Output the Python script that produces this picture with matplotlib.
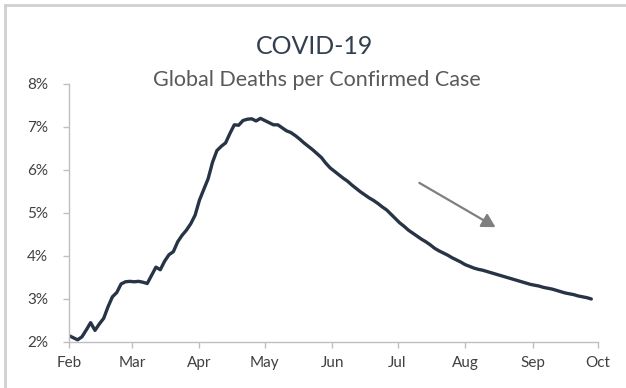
import numpy as np
import pandas as pd
import matplotlib
matplotlib.use("Agg")
import matplotlib.pyplot as plt
import matplotlib.dates as mdates
from matplotlib.lines import Line2D
from matplotlib.ticker import FuncFormatter

plt.rcParams['font.family'] = ['Lato', 'DejaVu Sans']

# Global deaths per confirmed case (%), sampled every other day from 1 Feb 2020
start_date = "2020-02-01"
step_days = 2
death_rate = [
    2.15, 2.10, 2.05, 2.12, 2.28, 2.45, 2.27, 2.42, 2.55, 2.82,
    3.05, 3.15, 3.35, 3.40, 3.41, 3.40, 3.41, 3.39, 3.36, 3.55,
    3.74, 3.68, 3.88, 4.03, 4.10, 4.33, 4.48, 4.60, 4.75, 4.95,
    5.30, 5.55, 5.80, 6.18, 6.45, 6.55, 6.63, 6.85, 7.05, 7.04,
    7.15, 7.18, 7.19, 7.14, 7.20, 7.15, 7.10, 7.05, 7.05, 6.98,
    6.91, 6.87, 6.80, 6.72, 6.63, 6.55, 6.47, 6.38, 6.29, 6.16,
    6.05, 5.97, 5.89, 5.81, 5.74, 5.65, 5.57, 5.49, 5.42, 5.35,
    5.29, 5.22, 5.14, 5.07, 4.97, 4.87, 4.77, 4.69, 4.60, 4.53,
    4.46, 4.39, 4.33, 4.26, 4.18, 4.12, 4.07, 4.02, 3.96, 3.91,
    3.86, 3.80, 3.76, 3.72, 3.69, 3.67, 3.64, 3.61, 3.58, 3.55,
    3.52, 3.49, 3.46, 3.43, 3.40, 3.37, 3.34, 3.32, 3.30, 3.27,
    3.25, 3.23, 3.20, 3.17, 3.14, 3.12, 3.10, 3.07, 3.05, 3.03,
    3.00,
]
month_ticks = ["2020-02-01", "2020-03-01", "2020-04-01", "2020-05-01", "2020-06-01",
               "2020-07-01", "2020-08-01", "2020-09-01", "2020-10-01"]
month_labels = ["Feb", "Mar", "Apr", "May", "Jun", "Jul", "Aug", "Sep", "Oct"]
y_ticks = [2, 3, 4, 5, 6, 7, 8]

dates = pd.date_range(start_date, periods=len(death_rate), freq=f"{step_days}D")

fig = plt.figure(figsize=(6.26, 3.88), dpi=100)
ax = fig.add_axes([0.110, 0.1186, 0.845, 0.665])

ax.plot(dates, death_rate, color="#263445", lw=2.4, solid_capstyle="round",
        solid_joinstyle="round")

ax.set_xlim(pd.Timestamp(month_ticks[0]), pd.Timestamp(month_ticks[-1]))
ax.set_ylim(y_ticks[0], y_ticks[-1])
ax.set_xticks([pd.Timestamp(d) for d in month_ticks])
ax.set_xticklabels(month_labels)
ax.set_yticks(y_ticks)
ax.yaxis.set_major_formatter(FuncFormatter(lambda v, p: f"{v:.0f}%"))

axis_grey = "#bfbfbf"
for side in ("top", "right"):
    ax.spines[side].set_visible(False)
for side in ("left", "bottom"):
    ax.spines[side].set_color(axis_grey)
    ax.spines[side].set_linewidth(1.0)
ax.tick_params(axis="both", colors=axis_grey, labelcolor="#404040",
               labelsize=11, length=4, width=1.0, direction="out")
ax.tick_params(axis="y", pad=11)
ax.tick_params(axis="x", pad=6)

# Trend arrow
ax.annotate("", xy=(pd.Timestamp("2020-08-15"), 4.67),
            xytext=(pd.Timestamp("2020-07-11"), 5.70),
            arrowprops=dict(arrowstyle="-|>,head_length=0.8,head_width=0.45",
                            color="#7f7f7f", lw=1.6, shrinkA=0, shrinkB=0))

fig.text(0.503, 0.880, "COVID-19", ha="center", va="center",
         fontsize=18, color="#333f50")
fig.text(0.506, 0.793, "Global Deaths per Confirmed Case", ha="center", va="center",
         fontsize=15.5, color="#595959")

# Chart area border
border = "#d0d0d0"
fig.add_artist(Line2D([5 / 626, 5 / 626], [0, 1 - 5 / 388], transform=fig.transFigure,
                      color=border, lw=2))
fig.add_artist(Line2D([5 / 626, 1], [1 - 5 / 388, 1 - 5 / 388], transform=fig.transFigure,
                      color=border, lw=2))

fig.savefig("out.png", dpi=100, facecolor="white")
